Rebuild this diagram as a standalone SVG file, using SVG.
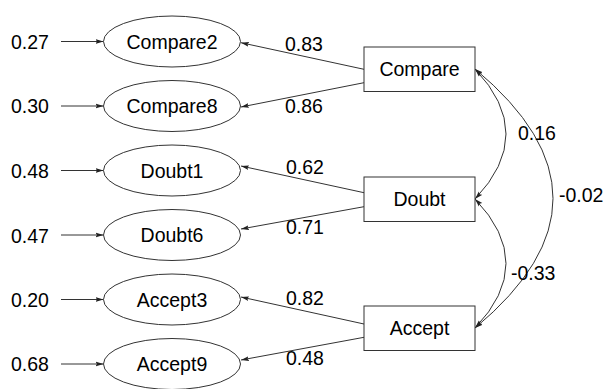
<svg xmlns="http://www.w3.org/2000/svg" width="606" height="389" viewBox="0 0 606 389">
<style>
text{font-family:"Liberation Sans",Arial,sans-serif;font-size:19.5px;fill:#000}
.n text{text-anchor:middle}
.n ellipse,.n rect{fill:#fff;stroke:#333;stroke-width:1}
.c path,.c line{fill:none;stroke:#333;stroke-width:1}
</style>
<defs>
<marker id="ah" viewBox="0 0 8 6" refX="8" refY="3" markerWidth="8" markerHeight="6" markerUnits="userSpaceOnUse" orient="auto-start-reverse">
<path d="M0,0.6 L8,3 L0,5.4 L1.5,3 z" fill="#222"/>
</marker>
</defs>
<g class="c" id="connectors">
<line x1="61" y1="41.5" x2="103.5" y2="41.5" marker-end="url(#ah)"/>
<line x1="61" y1="106" x2="103.5" y2="106" marker-end="url(#ah)"/>
<line x1="61" y1="170.5" x2="103.5" y2="170.5" marker-end="url(#ah)"/>
<line x1="61" y1="235" x2="103.5" y2="235" marker-end="url(#ah)"/>
<line x1="61" y1="299.5" x2="103.5" y2="299.5" marker-end="url(#ah)"/>
<line x1="61" y1="364" x2="103.5" y2="364" marker-end="url(#ah)"/>
<line x1="364" y1="69.3" x2="241" y2="42.7" marker-end="url(#ah)"/>
<line x1="364" y1="82.7" x2="241" y2="107" marker-end="url(#ah)"/>
<line x1="364" y1="192.7" x2="241" y2="166" marker-end="url(#ah)"/>
<line x1="364" y1="206.7" x2="241" y2="229" marker-end="url(#ah)"/>
<line x1="364" y1="324" x2="241" y2="297" marker-end="url(#ah)"/>
<line x1="364" y1="337.3" x2="241" y2="360" marker-end="url(#ah)"/>
<path d="M475,69 Q537,134 475,199" marker-start="url(#ah)" marker-end="url(#ah)"/>
<path d="M475,199 Q537,263.5 475,328" marker-start="url(#ah)" marker-end="url(#ah)"/>
<path d="M475,69 Q631,198.5 475,328" marker-start="url(#ah)" marker-end="url(#ah)"/>
<text x="285" y="51">0.83</text>
<text x="285" y="113">0.86</text>
<text x="286" y="174">0.62</text>
<text x="286" y="233.5">0.71</text>
<text x="286" y="305">0.82</text>
<text x="286" y="365">0.48</text>
<text x="518" y="140">0.16</text>
<text x="559" y="202">-0.02</text>
<text x="511" y="280">-0.33</text>
</g>
<g id="e_compare2"><text x="11" y="48.5">0.27</text></g>
<g id="e_compare8"><text x="11" y="113">0.30</text></g>
<g id="e_doubt1"><text x="11" y="178">0.48</text></g>
<g id="e_doubt6"><text x="11" y="242.5">0.47</text></g>
<g id="e_accept3"><text x="11" y="306.5">0.20</text></g>
<g id="e_accept9"><text x="11" y="371">0.68</text></g>
<g class="n" id="compare2"><ellipse cx="172" cy="41.5" rx="68.5" ry="25.5"/><text x="172" y="48.5">Compare2</text></g>
<g class="n" id="compare8"><ellipse cx="172" cy="106" rx="68.5" ry="25.5"/><text x="172" y="113">Compare8</text></g>
<g class="n" id="doubt1"><ellipse cx="172" cy="170.5" rx="68.5" ry="25.5"/><text x="172" y="177.5">Doubt1</text></g>
<g class="n" id="doubt6"><ellipse cx="172" cy="235" rx="68.5" ry="25.5"/><text x="172" y="242">Doubt6</text></g>
<g class="n" id="accept3"><ellipse cx="172" cy="299.5" rx="68.5" ry="25.5"/><text x="172" y="306.5">Accept3</text></g>
<g class="n" id="accept9"><ellipse cx="172" cy="364" rx="68.5" ry="25.5"/><text x="172" y="371">Accept9</text></g>
<g class="n" id="compare"><rect x="364" y="47" width="111" height="44.5"/><text x="419.5" y="76">Compare</text></g>
<g class="n" id="doubt"><rect x="364" y="177" width="111" height="44.5"/><text x="419.5" y="206">Doubt</text></g>
<g class="n" id="accept"><rect x="364" y="306" width="111" height="44.5"/><text x="419.5" y="335">Accept</text></g>
</svg>
